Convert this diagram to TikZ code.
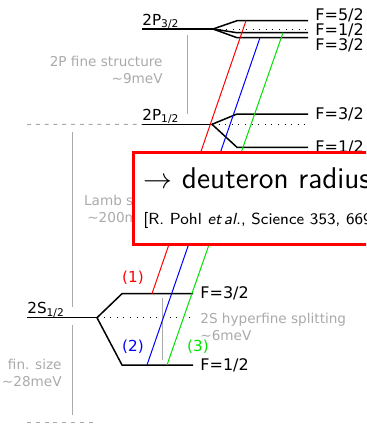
\documentclass[tikz,border=0pt]{standalone}
\usepackage{fontspec}
\setmainfont{DejaVu Sans}
\usepackage{tikz}
\usetikzlibrary{calc}
\usepackage{xcolor}
\definecolor{notegray}{RGB}{170,170,170}
\definecolor{transred}{RGB}{255,0,0}
\definecolor{transblue}{RGB}{0,0,255}
\definecolor{transgreen}{RGB}{0,225,0}

\tikzset{
  level/.style={line width=0.75pt},
  centre/.style={line width=0.5pt, dash pattern=on 0.5pt off 2.8pt},
  bar/.style={notegray, line width=0.5pt},
  cut/.style={notegray, line width=0.5pt, dash pattern=on 2pt off 2.4pt},
  trans/.style={line width=0.5pt},
  lbl/.style={font=\fontsize{7.6}{9}\selectfont, inner sep=0pt, anchor=base west},
  flbl/.style={font=\fontsize{8}{9}\selectfont, inner sep=0pt, anchor=west},
  note/.style={notegray, font=\fontsize{6.8}{8.5}\selectfont, inner sep=0pt, align=right, anchor=east},
}
\newcommand{\Fval}[1]{F=#1}

\begin{document}
\begin{tikzpicture}[x=0.5pt, y=-0.5pt]
  \useasboundingbox (0,0) rectangle (366,424);
  \clip (0,0) rectangle (366,424);

  % 2P_{3/2}
  \coordinate (p3) at (142,29);
  \coordinate (p3s) at (213,29);
  \draw[level] (p3) -- (p3s);
  \foreach \y in {20.7,32.7,37.7}
    \draw[level] (p3s) -- (237,\y) -- (308,\y);
  \draw[centre] (p3s) -- (308,29);
  \node[lbl] (l2p3) at ($(p3)+(0,-4)$) {2P\textsubscript{3/2}};
  \node[flbl] (f52) at (315,15) {\Fval{5/2}};
  \node[flbl] (f12a) at (315,30.5) {\Fval{1/2}};
  \node[flbl] (f32a) at (315,45.5) {\Fval{3/2}};

  % 2P_{1/2}
  \coordinate (p1) at (142,124.3);
  \coordinate (p1s) at (212,124.3);
  \draw[level] (p1) -- (p1s);
  \foreach \y in {114,147.3}
    \draw[level] (p1s) -- (237,\y) -- (308,\y);
  \draw[centre] (p1s) -- (308,124.3);
  \node[lbl] (l2p1) at ($(p1)+(0,-4)$) {2P\textsubscript{1/2}};
  \node[flbl] (f32b) at (315,114) {\Fval{3/2}};
  \node[flbl] (f12b) at (315,147.3) {\Fval{1/2}};

  % 2S_{1/2}
  \coordinate (s1) at (27,317.7);
  \coordinate (s1s) at (97,317.7);
  \coordinate (s1u) at (122,293.7);
  \coordinate (s1d) at (122,365);
  \draw[level] (s1) -- (s1s);
  \draw[level] (s1s) -- (s1u) -- (193,293.7);
  \draw[level] (s1s) -- (s1d) -- (193,365);
  \draw[centre] (s1s) -- (195,317.7);
  \node[lbl] (l2s) at ($(s1)+(0,-4)$) {2S\textsubscript{1/2}};
  \node[flbl] (f32c) at (200,293.5) {\Fval{3/2}};
  \node[flbl] (f12c) at (200,365.5) {\Fval{1/2}};

  % gray notes
  \draw[bar] (187.5,35) -- (187.5,114);
  \node[note] (fine) at (163,69.5) {2P fine structure\\\textasciitilde 9meV};
  \draw[cut] (27,124.5) -- (p1);
  \draw[bar] (72,132) -- (72,307);
  \draw[bar] (72,325) -- (72,415);
  \node[note] (lamb) at (156,208.5) {Lamb shift\\\textasciitilde 200meV};
  \node[note] (fin) at (62,373) {fin. size\\\textasciitilde 28meV};
  \draw[cut] (27,422) -- (93,422);
  \draw[bar] (162,298) -- (162,360);
  \node[note, align=left, anchor=west] (hfs) at (200,326.5) {2S hyperfine splitting\\\textasciitilde 6meV};

  % transitions
  \coordinate (t1a) at (152,293.7);  \coordinate (t1b) at (246,20.7);
  \coordinate (t2a) at (147,365);    \coordinate (t2b) at (260,37.7);
  \coordinate (t3a) at (167,365);    \coordinate (t3b) at (283,32.7);
  \draw[trans, transred] (t1a) -- (t1b);
  \draw[trans, transblue] (t2a) -- (t2b);
  \draw[trans, transgreen] (t3a) -- (t3b);
  \node[transred, font=\fontsize{7.6}{9}\selectfont] (n1) at (133,278) {(1)};
  \node[transblue, font=\fontsize{7.6}{9}\selectfont] (n2) at (133,347) {(2)};
  \node[transgreen, font=\fontsize{7.6}{9}\selectfont] (n3) at (198,347) {(3)};

  % result box
  \draw[transred, line width=1.5pt, fill=white] (133,152) rectangle (440,244);
  \node[anchor=west, inner sep=0pt, font=\sffamily\fontsize{15}{18}\selectfont] (res) at (143,178)
    {$\rightarrow$ deuteron radius};
  \node[anchor=west, inner sep=0pt, font=\sffamily\fontsize{8.05}{10}\selectfont] (cite) at (143,220)
    {[R. Pohl \textit{et\,al.}, Science 353, 669};
\end{tikzpicture}
\end{document}
